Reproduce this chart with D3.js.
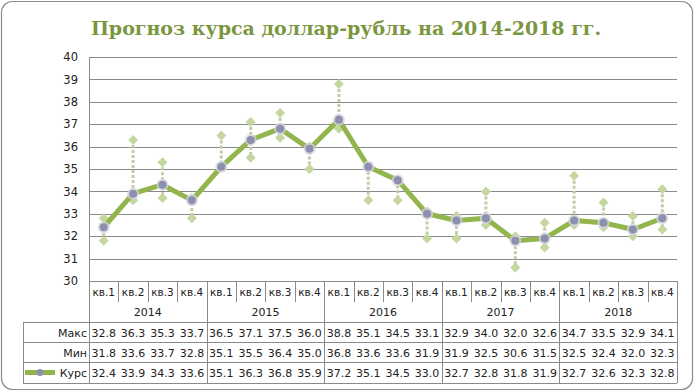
<!DOCTYPE html>
<html>
<head>
<meta charset="utf-8">
<script src="https://cdn.jsdelivr.net/npm/d3@7"></script>
<style>
  body { margin: 0; background: #fff; }
  svg { display: block; }
</style>
</head>
<body>
<svg id="svg" width="694" height="392"></svg>
<script>
var quarters = ["кв.1", "кв.2", "кв.3", "кв.4"];
var years = ["2014", "2015", "2016", "2017", "2018"];
var maxVals = [32.8, 36.3, 35.3, 33.7, 36.5, 37.1, 37.5, 36.0, 38.8, 35.1, 34.5, 33.1, 32.9, 34.0, 32.0, 32.6, 34.7, 33.5, 32.9, 34.1];
var minVals = [31.8, 33.6, 33.7, 32.8, 35.1, 35.5, 36.4, 35.0, 36.8, 33.6, 33.6, 31.9, 31.9, 32.5, 30.6, 31.5, 32.5, 32.4, 32.0, 32.3];
var kurs = [32.4, 33.9, 34.3, 33.6, 35.1, 36.3, 36.8, 35.9, 37.2, 35.1, 34.5, 33.0, 32.7, 32.8, 31.8, 31.9, 32.7, 32.6, 32.3, 32.8];
var yTicks = [30, 31, 32, 33, 34, 35, 36, 37, 38, 39, 40];
var rowNames = ["Макс", "Мин", "Курс"];

var svg = d3.select('#svg');
var margin = { top: 57, left: 89, right: 17 };
var plotBottom = 281;
var width = 694;

// one band per quarter
var idx = d3.range(maxVals.length);
var x = d3.scaleBand().domain(idx).range([margin.left, width - margin.right]).padding(0);
var y = d3.scaleLinear().domain([30, 40]).range([plotBottom, margin.top]);
var cx = function(i) { return x(i) + x.bandwidth() / 2; };

var font = "'DejaVu Sans', sans-serif";
var gridCol = "#8a8a8a";

// outer frame
svg.append('rect')
  .attr('x', 1.5).attr('y', 1.5)
  .attr('width', 691).attr('height', 388)
  .attr('rx', 11).attr('ry', 11)
  .attr('fill', '#fff')
  .attr('stroke', '#8c8c8c')
  .attr('stroke-width', 1.2);

// title
svg.append('text')
  .attr('x', 346).attr('y', 35)
  .attr('text-anchor', 'middle')
  .style('font-family', "'DejaVu Serif', serif")
  .style('font-weight', 'bold')
  .style('font-size', '19px')
  .style('fill', '#7a9640')
  .text('Прогноз курса доллар-рубль на 2014-2018 гг.');

// gridlines
svg.append('g')
  .selectAll('line')
  .data(yTicks.slice(1))
  .enter().append('line')
  .attr('x1', margin.left).attr('x2', width - margin.right)
  .attr('y1', function(d) { return Math.round(y(d)) + 0.5; })
  .attr('y2', function(d) { return Math.round(y(d)) + 0.5; })
  .attr('stroke', gridCol).attr('stroke-width', 1);

// y axis labels
var yAxis = svg.append('g')
  .attr('transform', 'translate(' + (margin.left - 11) + ',0)')
  .call(d3.axisLeft(y).tickValues(yTicks).tickSize(0).tickPadding(0));
yAxis.select('.domain').remove();
yAxis.selectAll('text')
  .style('font-family', font).style('font-size', '11.5px').style('fill', '#222');

// left axis line, full height through the table header
svg.append('line')
  .attr('x1', margin.left + 0.5).attr('x2', margin.left + 0.5)
  .attr('y1', margin.top).attr('y2', 383)
  .attr('stroke', gridCol);

// dotted range lines max-min
svg.append('g')
  .selectAll('line')
  .data(idx)
  .enter().append('line')
  .attr('x1', cx).attr('x2', cx)
  .attr('y1', function(i) { return y(maxVals[i]); })
  .attr('y2', function(i) { return y(minVals[i]); })
  .attr('stroke', '#c2cca6')
  .attr('stroke-width', 3)
  .attr('stroke-dasharray', '3,2');

// diamonds for max and min
function diamond(px, py, r) {
  return 'M' + px + ',' + (py - r) + 'L' + (px + r) + ',' + py + 'L' + px + ',' + (py + r) + 'L' + (px - r) + ',' + py + 'Z';
}
var dm = svg.append('g');
[maxVals, minVals].forEach(function(arr) {
  dm.selectAll(null)
    .data(idx)
    .enter().append('path')
    .attr('d', function(i) { return diamond(cx(i), y(arr[i]), 5); })
    .attr('fill', '#c4d79e');
});

// course line
var line = d3.line()
  .x(function(d, i) { return cx(i); })
  .y(function(d) { return y(d); });
svg.append('path')
  .datum(kurs)
  .attr('d', line)
  .attr('fill', 'none')
  .attr('stroke', '#92b54e')
  .attr('stroke-width', 5)
  .attr('stroke-linejoin', 'round');

// course markers with soft halo
var mk = svg.append('g');
mk.selectAll('circle.halo')
  .data(kurs)
  .enter().append('circle')
  .attr('class', 'halo')
  .attr('cx', function(d, i) { return cx(i); })
  .attr('cy', function(d) { return y(d); })
  .attr('r', 6)
  .attr('fill', '#d4d5e2')
  .attr('opacity', 0.8);
mk.selectAll('circle.dot')
  .data(kurs)
  .enter().append('circle')
  .attr('class', 'dot')
  .attr('cx', function(d, i) { return cx(i); })
  .attr('cy', function(d) { return y(d); })
  .attr('r', 4)
  .attr('fill', '#8d8fae');

// ---- data table ----
var tbl = svg.append('g');
var rowTop = [322, 342, 362];
var tableLeft = 23;
var right = width - margin.right;

// x axis line
tbl.append('line')
  .attr('x1', margin.left).attr('x2', right)
  .attr('y1', plotBottom + 0.5).attr('y2', plotBottom + 0.5)
  .attr('stroke', gridCol);

// quarter dividers (short) and year dividers (full)
tbl.selectAll('line.qd')
  .data(idx.concat([idx.length]))
  .enter().append('line')
  .attr('x1', function(i) { return (i < idx.length ? Math.round(x(i)) : Math.round(right)) + 0.5; })
  .attr('x2', function(i) { return (i < idx.length ? Math.round(x(i)) : Math.round(right)) + 0.5; })
  .attr('y1', plotBottom)
  .attr('y2', function(i) { return (i % 4 === 0) ? 383 : 302; })
  .attr('stroke', gridCol);

// horizontal table lines
tbl.selectAll('line.h')
  .data(rowTop.concat([383]))
  .enter().append('line')
  .attr('x1', tableLeft).attr('x2', right)
  .attr('y1', function(d) { return d + 0.5; })
  .attr('y2', function(d) { return d + 0.5; })
  .attr('stroke', gridCol);
tbl.append('line')
  .attr('x1', tableLeft + 0.5).attr('x2', tableLeft + 0.5)
  .attr('y1', 322).attr('y2', 383)
  .attr('stroke', gridCol);

// quarter labels
tbl.selectAll('text.q')
  .data(idx)
  .enter().append('text')
  .attr('x', cx).attr('y', 296)
  .attr('text-anchor', 'middle')
  .style('font-family', font).style('font-size', '10.5px').style('fill', '#222')
  .text(function(i) { return quarters[i % 4]; });

// year labels
tbl.selectAll('text.yr')
  .data(years)
  .enter().append('text')
  .attr('x', function(d, k) { return (x(k * 4) + x(k * 4 + 3) + x.bandwidth()) / 2; })
  .attr('y', 316)
  .attr('text-anchor', 'middle')
  .style('font-family', font).style('font-size', '11px').style('fill', '#222')
  .text(function(d) { return d; });

// row values
[maxVals, minVals, kurs].forEach(function(arr, r) {
  tbl.selectAll(null)
    .data(arr)
    .enter().append('text')
    .attr('x', function(d, i) { return cx(i); })
    .attr('y', rowTop[r] + 14.5)
    .attr('text-anchor', 'middle')
    .style('font-family', font).style('font-size', '11px').style('fill', '#222')
    .text(function(d) { return d.toFixed(1); });
  tbl.append('text')
    .attr('x', margin.left - 2)
    .attr('y', rowTop[r] + 14.5)
    .attr('text-anchor', 'end')
    .style('font-family', font).style('font-size', '11px').style('fill', '#222')
    .text(rowNames[r]);
});

// legend key in the Курс row
tbl.append('line')
  .attr('x1', 25).attr('x2', 55)
  .attr('y1', 372.5).attr('y2', 372.5)
  .attr('stroke', '#92b54e').attr('stroke-width', 5);
tbl.append('circle')
  .attr('cx', 40).attr('cy', 372.5).attr('r', 3.5)
  .attr('fill', '#8d8fae');
</script>
</body>
</html>
